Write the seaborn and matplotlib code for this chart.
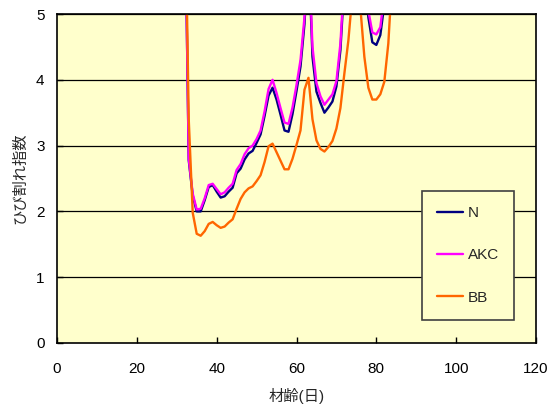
import pandas as pd
import matplotlib
matplotlib.use('Agg')
import matplotlib.pyplot as plt
import seaborn as sns

# material age in days
days = list(range(32, 85))

# crack index per series (values > 5 run off the top)
n_vals = [7.0, 2.78, 2.24, 2.00, 2.00, 2.17, 2.37, 2.40, 2.30, 2.21,
          2.23, 2.30, 2.36, 2.58, 2.65, 2.79, 2.88, 2.92, 3.04, 3.17,
          3.45, 3.76, 3.88, 3.70, 3.47, 3.23, 3.21, 3.48, 3.83, 4.20,
          4.85, 6.0, 4.35, 3.82, 3.65, 3.50, 3.58, 3.67, 3.90, 4.45,
          5.5, 6.5, 6.5, 6.5, 6.5, 6.0, 4.95, 4.57, 4.53, 4.68,
          5.15, 6.0, 6.5]
akc_vals = [7.0, 2.80, 2.27, 2.03, 2.04, 2.20, 2.40, 2.42, 2.34, 2.26,
            2.29, 2.36, 2.42, 2.63, 2.72, 2.87, 2.96, 3.00, 3.10, 3.23,
            3.52, 3.86, 4.00, 3.80, 3.57, 3.35, 3.33, 3.58, 3.92, 4.30,
            4.95, 6.1, 4.50, 3.95, 3.75, 3.62, 3.70, 3.78, 3.98, 4.55,
            5.6, 6.5, 6.5, 6.5, 6.5, 6.0, 5.05, 4.72, 4.69, 4.80,
            5.3, 6.0, 6.5]
bb_vals = [7.2, 3.40, 1.98, 1.66, 1.63, 1.70, 1.81, 1.84, 1.79, 1.75,
           1.77, 1.83, 1.88, 2.04, 2.19, 2.29, 2.35, 2.38, 2.46, 2.55,
           2.75, 2.99, 3.03, 2.90, 2.77, 2.64, 2.64, 2.80, 3.01, 3.23,
           3.85, 4.03, 3.40, 3.08, 2.95, 2.91, 2.98, 3.07, 3.26, 3.57,
           4.10, 4.60, 5.3, 5.8, 5.1, 4.35, 3.88, 3.70, 3.70, 3.78,
           3.97, 4.55, 5.6]

series_names = ['N', 'AKC', 'BB']
series_colors = ['#000080', '#FF00FF', '#FF6600']

x_ticks = [0, 20, 40, 60, 80, 100, 120]
y_ticks = [0, 1, 2, 3, 4, 5]

df = pd.DataFrame({
    'day': days * 3,
    'value': n_vals + akc_vals + bb_vals,
    'series': ['N'] * len(days) + ['AKC'] * len(days) + ['BB'] * len(days),
})

sns.set_style('ticks', {'axes.facecolor': '#FFFFCC'})
plt.rcParams['font.family'] = ['Liberation Sans', 'Noto Sans CJK JP', 'DejaVu Sans']
plt.rcParams['font.size'] = 11

fig, ax = plt.subplots(figsize=(5.5, 4.08), dpi=100)
fig.subplots_adjust(left=57 / 550, right=536 / 550, bottom=65 / 408, top=394 / 408)

sns.lineplot(data=df, x='day', y='value', hue='series', hue_order=series_names,
             palette=series_colors, linewidth=1.7, ax=ax)

ax.set_xlim(0, 120)
ax.set_ylim(0, 5)
ax.set_xticks(x_ticks)
ax.set_yticks(y_ticks)
ax.tick_params(direction='in', length=4, width=1, colors='black')
ax.tick_params(axis='x', pad=14)
ax.tick_params(axis='y', pad=9)

# horizontal grid lines like the original
for v in y_ticks[1:]:
    ax.axhline(v, color='black', linewidth=0.9, zorder=1)

for side in ['left', 'bottom', 'right', 'top']:
    ax.spines[side].set_visible(True)
    ax.spines[side].set_color('black')
    ax.spines[side].set_linewidth(1.2)

ax.set_xlabel('材齢(日)', labelpad=8)
ax.set_ylabel('ひび割れ指数', labelpad=6)

leg = ax.legend(loc='lower left', bbox_to_anchor=(0.762, 0.07), frameon=True,
                fancybox=False, framealpha=1, edgecolor='#404040',
                labelspacing=1.85, handlelength=1.7, handletextpad=0.3,
                borderpad=1.0, borderaxespad=0, fontsize=11)
leg.get_frame().set_linewidth(1.2)
for line in leg.get_lines():
    line.set_linewidth(1.7)

plt.savefig('out.png', dpi=100)
